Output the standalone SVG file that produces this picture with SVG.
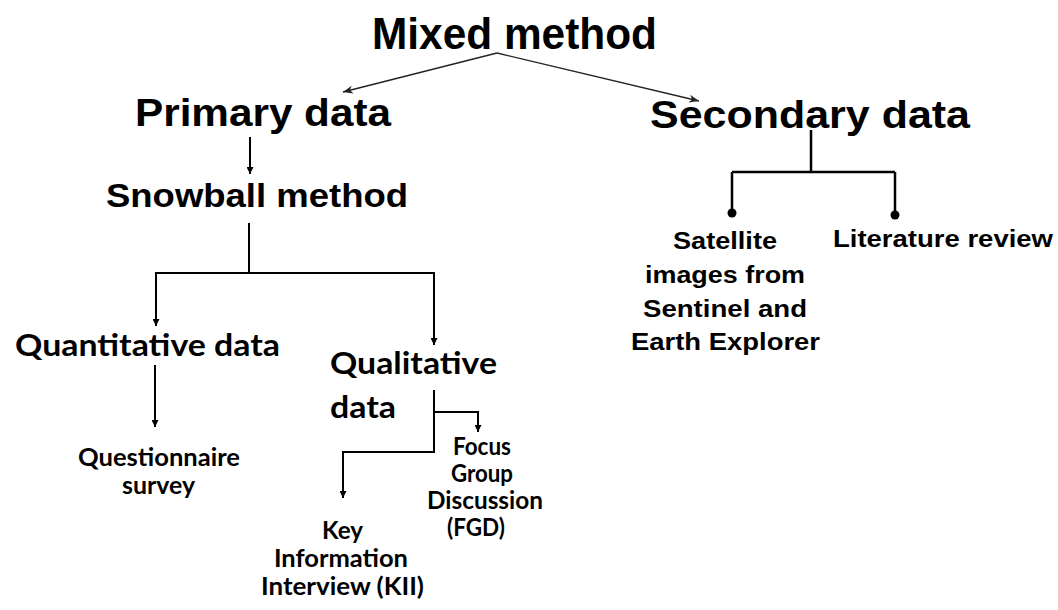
<svg xmlns="http://www.w3.org/2000/svg" width="1058" height="610" viewBox="0 0 1058 610">
<defs>
<style>
.a{font-family:"Liberation Sans",Arial,sans-serif;font-weight:bold;fill:#000}
.c{font-family:Lato,"Liberation Sans",sans-serif;font-weight:bold;fill:#000}
.ln{fill:none;stroke:#000;stroke-width:2}
.thin{fill:none;stroke:#222;stroke-width:1.3}
.sec{fill:none;stroke:#000;stroke-width:2.5}
</style>
<marker id="ah" viewBox="0 0 10 10" refX="10" refY="5" markerWidth="8" markerHeight="7" markerUnits="userSpaceOnUse" orient="auto">
<path d="M0,0 L10,5 L0,10 z" fill="#000"/>
</marker>
<marker id="ah2" viewBox="0 0 10 10" refX="10" refY="5" markerWidth="10" markerHeight="10" markerUnits="userSpaceOnUse" orient="auto">
<path d="M0,1 L10,5 L0,9 L3,5 z" fill="#222"/>
</marker>
</defs>
<rect width="1058" height="610" fill="#fff"/>
<g id="connectors">
<path class="thin" d="M497,53 L343,92" marker-end="url(#ah2)"/>
<path class="thin" d="M497,53 L699,101" marker-end="url(#ah2)"/>
<path class="ln" d="M250,137 L250,174" marker-end="url(#ah)"/>
<path class="ln" d="M249,223 L249,273 M155,273 L435,273"/>
<path class="ln" d="M156,273 L156,326" marker-end="url(#ah)"/>
<path class="ln" d="M434,273 L434,345" marker-end="url(#ah)"/>
<path class="ln" d="M155,365 L155,427" marker-end="url(#ah)"/>
<path class="ln" d="M434,390 L434,452 L343,452 L343,498" marker-end="url(#ah)"/>
<path class="ln" d="M434,412 L478,412 L478,432" marker-end="url(#ah)"/>
<path class="sec" d="M811,130 L811,172 M732,172 L895,172 M732,172 L732,213 M895,172 L895,215"/>
<circle cx="732" cy="213" r="4.5" fill="#000"/>
<circle cx="895" cy="215" r="4.5" fill="#000"/>
</g>
<g id="mixed-method"><text class="a" x="372" y="49" font-size="45" textLength="285" lengthAdjust="spacingAndGlyphs">Mixed method</text></g>
<g id="primary-data"><text class="a" x="135" y="126" font-size="38" textLength="256" lengthAdjust="spacingAndGlyphs">Primary data</text></g>
<g id="secondary-data"><text class="a" x="650" y="128" font-size="39" textLength="320" lengthAdjust="spacingAndGlyphs">Secondary data</text></g>
<g id="snowball-method"><text class="a" x="106" y="207" font-size="34" textLength="302" lengthAdjust="spacingAndGlyphs">Snowball method</text></g>
<g id="quantitative-data"><text class="c" x="15" y="356" font-size="30" textLength="265" lengthAdjust="spacingAndGlyphs">Quantitative data</text></g>
<g id="qualitative-data">
<text class="c" x="330" y="374" font-size="30" textLength="167" lengthAdjust="spacingAndGlyphs">Qualitative</text>
<text class="c" x="330" y="418" font-size="30" textLength="66" lengthAdjust="spacingAndGlyphs">data</text>
</g>
<g id="questionnaire-survey">
<text class="c" x="78" y="466" font-size="25" textLength="162" lengthAdjust="spacingAndGlyphs">Questionnaire</text>
<text class="c" x="122" y="494" font-size="25" textLength="73" lengthAdjust="spacingAndGlyphs">survey</text>
</g>
<g id="fgd">
<text class="c" x="453" y="455" font-size="24" textLength="58" lengthAdjust="spacingAndGlyphs">Focus</text>
<text class="c" x="451" y="482" font-size="24" textLength="62" lengthAdjust="spacingAndGlyphs">Group</text>
<text class="c" x="427" y="509" font-size="24" textLength="116" lengthAdjust="spacingAndGlyphs">Discussion</text>
<text class="c" x="447" y="536" font-size="24" textLength="58" lengthAdjust="spacingAndGlyphs">(FGD)</text>
</g>
<g id="kii">
<text class="c" x="322" y="539" font-size="25" textLength="41" lengthAdjust="spacingAndGlyphs">Key</text>
<text class="c" x="274" y="567" font-size="25" textLength="134" lengthAdjust="spacingAndGlyphs">Information</text>
<text class="c" x="261" y="595" font-size="25" textLength="163" lengthAdjust="spacingAndGlyphs">Interview (KII)</text>
</g>
<g id="satellite">
<text class="a" x="673" y="249" font-size="24" textLength="104" lengthAdjust="spacingAndGlyphs">Satellite</text>
<text class="a" x="645" y="283" font-size="24" textLength="160" lengthAdjust="spacingAndGlyphs">images from</text>
<text class="a" x="643" y="317" font-size="24" textLength="164" lengthAdjust="spacingAndGlyphs">Sentinel and</text>
<text class="a" x="631" y="350" font-size="24" textLength="189" lengthAdjust="spacingAndGlyphs">Earth Explorer</text>
</g>
<g id="literature-review"><text class="a" x="833" y="247" font-size="24" textLength="220" lengthAdjust="spacingAndGlyphs">Literature review</text></g>
</svg>
